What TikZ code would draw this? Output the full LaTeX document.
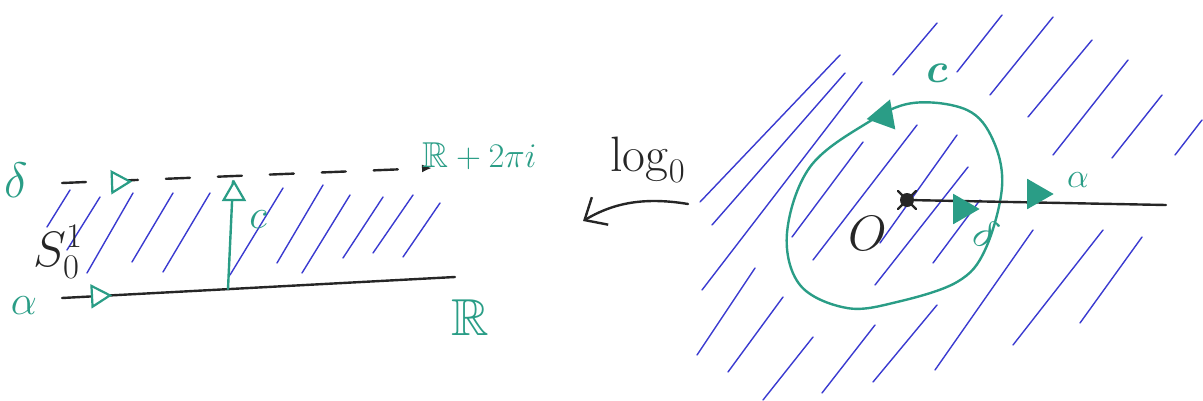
\documentclass[tikz,border=0pt]{standalone}
\usepackage{amssymb}
\usepackage{amsmath}
\usetikzlibrary{arrows.meta,shapes.geometric}
\definecolor{tealg}{HTML}{2A9D86}
\definecolor{hatchb}{HTML}{3A3AD0}
\definecolor{inkk}{HTML}{262626}
\begin{document}
\begin{tikzpicture}[x=0.5pt,y=-0.5pt,
  hatch/.style={hatchb,line width=0.7pt,line cap=round},
  inkline/.style={inkk,line width=1.2pt,line cap=round},
  greenline/.style={tealg,line width=1.2pt,line cap=round},
  opentri/.style={isosceles triangle,isosceles triangle apex angle=60,draw=tealg,line width=1.1pt,fill=white,inner sep=0pt,minimum size=9pt},
  filltri/.style={isosceles triangle,isosceles triangle apex angle=60,draw=tealg,fill=tealg,line width=0.8pt,inner sep=0pt,minimum size=12pt},
  glab/.style={text=tealg,inner sep=0pt,font=\fontsize{20}{24}\selectfont},
  klab/.style={text=inkk,inner sep=0pt,font=\fontsize{20}{24}\selectfont},
]
\useasboundingbox (0,0) rectangle (1203,401);

% ---------- left strip: hatching ----------
\foreach \xa/\ya/\xb/\yb in {70/190/47/227, 100/197/67/250, 133/193/87/273, 173/193/132/262,
  210/193/163/272, 283/188/230/275, 323/185/277/263, 350/195/302/273, 383/197/343/258,
  413/195/373/253, 440/203/403/257}
  \draw[hatch] (\xa,\ya) -- (\xb,\yb);

% ---------- left strip: lines ----------
\coordinate (dL) at (62,183);
\coordinate (dR) at (432,168);
\coordinate (aL) at (62,298);
\coordinate (aR) at (455,277);
\coordinate (cB) at (228,289);
\coordinate (cT) at (233,181);
\draw[inkline,dash pattern=on 12pt off 14pt,-{Latex[length=5pt,width=4pt]}] (dL) -- (dR);
\draw[inkline] (aL) -- (aR);
\draw[greenline] (cB) -- (cT);
\node[opentri,rotate=2] (td) at (118,182) {};
\node[opentri,rotate=3] (ta) at (98,296) {};
\node[opentri,rotate=90] (tc) at (234,194) {};

\node[glab,font=\fontsize{26}{30}\selectfont] (ldelta) at (16,180) {$\delta$};
\node[glab] (lalpha) at (24,306) {$\alpha$};
\node[glab] (lc) at (258,220) {$c$};
\node[glab,font=\fontsize{26}{30}\selectfont] (lR) at (470,318) {$\mathbb{R}$};
\node[glab,anchor=west,font=\fontsize{18}{22}\selectfont] (lR2) at (422,156) {$\mathbb{R}+2\pi i$};
\node[klab,font=\fontsize{24}{28}\selectfont] (lS) at (58,252) {$S^1_0$};

% ---------- log arrow ----------
\node[klab,font=\fontsize{26}{30}\selectfont] (llog) at (648,160) {$\log_0$};
\coordinate (arS) at (688,204);
\coordinate (arE) at (583,221);
\draw[inkline,-{Straight Barb[length=9pt,width=16pt]}] (arS) .. controls (640,196) and (610,205) .. (arE);

% ---------- right plane: hatching ----------
\foreach \xa/\ya/\xb/\yb in {840/55/700/202, 845/73/712/225, 862/82/702/290, 755/268/697/355,
  783/297/728/372, 813/337/763/400, 875/325/822/393, 937/305/873/382, 1033/230/935/370,
  1103/230/1013/345, 1142/237/1080/323, 937/23/893/75, 1002/15/957/72, 1053/17/990/95,
  1092/40/1028/117, 1128/60/1053/155, 1162/95/1112/158, 1202/120/1175/155,
  863/142/792/237, 917/125/813/260, 957/135/880/243, 968/167/875/285, 980/200/933/263}
  \draw[hatch] (\xa,\ya) -- (\xb,\yb);

% ---------- right plane: circle ----------
\draw[greenline] plot[smooth cycle,tension=0.6] coordinates {(913,103) (967,110) (993,140) (1002,187)
  (985,250) (957,282) (897,302) (847,308) (800,285) (787,233) (810,167) (867,123)};

% ---------- right plane: ray ----------
\node[circle,fill=inkk,inner sep=0pt,minimum size=7pt] (O) at (907,200) {};
\draw[inkline] ([shift={(-9,-9)}]O.center) -- ([shift={(9,9)}]O.center);
\draw[inkline] ([shift={(-9,9)}]O.center) -- ([shift={(9,-9)}]O.center);
\coordinate (rE) at (1166,205);
\draw[inkline] (O) -- (rE);

\node[filltri,rotate=0] (tra) at (1036,194) {};
\node[filltri,rotate=0] (trd) at (962,209) {};
\node[filltri,rotate=190] (trc) at (884,116) {};

\node[klab,font=\fontsize{24}{28}\selectfont] (lO) at (868,233) {$O$};
\node[glab,font=\fontsize{16}{20}\selectfont] (ralpha) at (1078,180) {$\alpha$};
\node[glab,rotate=-30] (rdelta) at (986,234) {$\delta$};
\node[glab,font=\fontsize{22}{26}\selectfont] (rc) at (937,73) {$\boldsymbol{c}$};
\end{tikzpicture}
\end{document}
